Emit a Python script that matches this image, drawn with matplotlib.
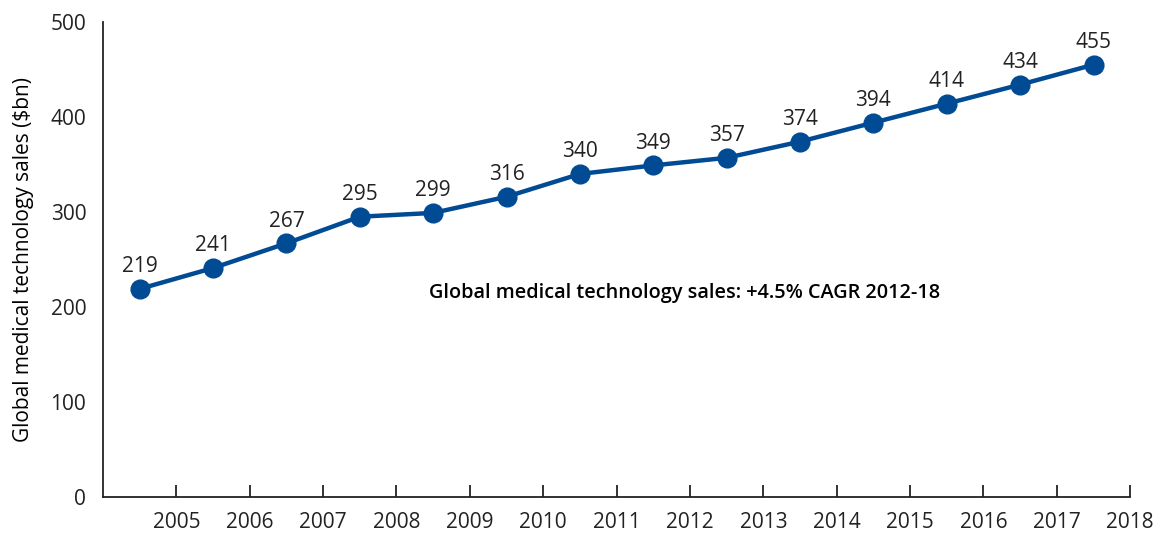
import matplotlib
matplotlib.use("Agg")
import matplotlib.pyplot as plt

plt.rcParams['font.family'] = ['Open Sans', 'DejaVu Sans']

years = ['2005', '2006', '2007', '2008', '2009', '2010', '2011', '2012',
         '2013', '2014', '2015', '2016', '2017', '2018']
sales = [219, 241, 267, 295, 299, 316, 340, 349, 357, 374, 394, 414, 434, 455]

blue = '#004b93'
txt = '#222222'

fig = plt.figure(figsize=(11.7, 5.35), dpi=100)
ax = fig.add_axes([0.088, 0.071, 0.878, 0.888])

x = list(range(len(sales)))
ax.plot(x, sales, color=blue, linewidth=3.2, marker='o', markersize=13.5,
        solid_capstyle='round', zorder=3)

for xi, v in zip(x, sales):
    ax.annotate(str(v), (xi, v), xytext=(0, 8.5), textcoords='offset points',
                ha='center', va='bottom', fontsize=15, color=txt)

ax.text(7.43, 215, 'Global medical technology sales: +4.5% CAGR 2012-18',
        ha='center', va='center', fontsize=14.3, fontweight='semibold', color='black')

ax.set_xlim(-0.5, len(sales) - 0.5)
ax.set_ylim(0, 500)
ax.set_yticks([0, 100, 200, 300, 400, 500])
ax.set_xticks([i + 0.5 for i in x])
ax.set_xticklabels(years)

ax.spines['top'].set_visible(False)
ax.spines['right'].set_visible(False)
for s in ('left', 'bottom'):
    ax.spines[s].set_linewidth(1.3)
    ax.spines[s].set_color('#222222')

ax.tick_params(axis='x', direction='in', length=8.5, width=1.3, color='#222222',
               pad=11, labelsize=15, labelcolor=txt)
ax.tick_params(axis='y', length=0, pad=12, labelsize=15, labelcolor=txt)

ax.set_ylabel('Global medical technology sales ($bn)', fontsize=15, color='black',
              labelpad=12)

fig.savefig('out.png', dpi=100)
